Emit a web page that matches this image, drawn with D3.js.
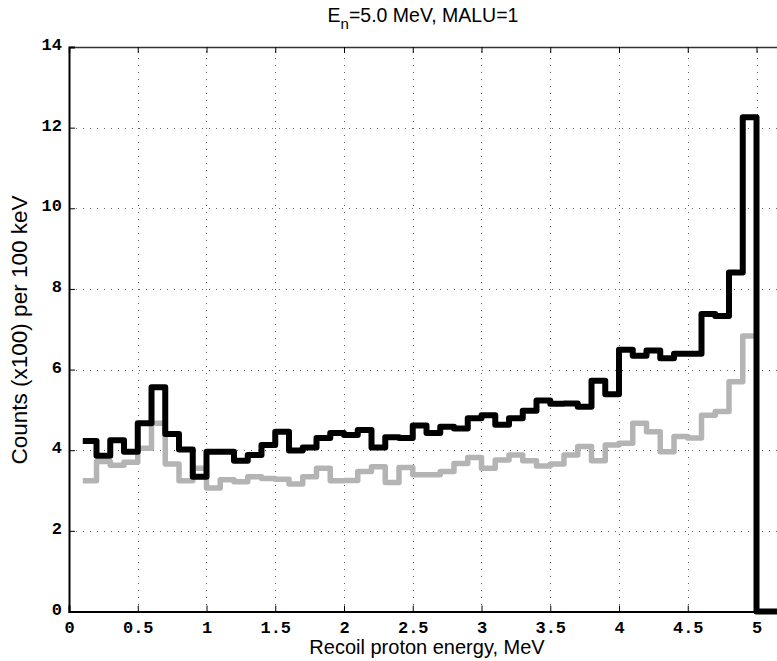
<!DOCTYPE html>
<html>
<head>
<meta charset="utf-8">
<script src="https://cdn.jsdelivr.net/npm/d3@7"></script>
<style>
  html, body { margin: 0; padding: 0; background: #fff; }
  svg { display: block; }
</style>
</head>
<body>
<div id="chart"></div>
<script>
// Bin lower edges (MeV), 100 keV bins
const binEdges = d3.range(1, 50).map(i => +(i * 0.1).toFixed(1)); // 0.1 .. 4.9
const binWidth = 0.1;

// Black series (counts x100 per 100 keV)
const blackValues = [
  4.23, 3.86, 4.25, 3.96, 4.67, 5.56, 4.40, 4.02, 3.34, 3.96,
  3.96, 3.74, 3.88, 4.13, 4.46, 3.99, 4.07, 4.30, 4.43, 4.38,
  4.50, 4.07, 4.32, 4.30, 4.61, 4.43, 4.58, 4.54, 4.79, 4.87,
  4.63, 4.79, 4.98, 5.23, 5.15, 5.16, 5.08, 5.72, 5.39, 6.49,
  6.34, 6.47, 6.28, 6.39, 6.39, 7.38, 7.33, 8.41, 12.26
];
// trailing empty bins above 5.0 MeV
const blackTail = [0, 0, 0];

// Grey series
const greyValues = [
  3.24, 3.72, 3.63, 3.70, 4.05, 4.67, 3.66, 3.24, 3.55, 3.06,
  3.27, 3.22, 3.34, 3.30, 3.28, 3.16, 3.34, 3.55, 3.24, 3.25,
  3.47, 3.59, 3.20, 3.57, 3.39, 3.39, 3.47, 3.67, 3.82, 3.55,
  3.76, 3.88, 3.74, 3.61, 3.66, 3.88, 4.09, 3.74, 4.13, 4.17,
  4.67, 4.46, 3.96, 4.34, 4.30, 4.87, 4.96, 5.70, 6.83
];

const xTicks = [0, 0.5, 1, 1.5, 2, 2.5, 3, 3.5, 4, 4.5, 5];
const yTicks = [0, 2, 4, 6, 8, 10, 12, 14];

const W = 777, H = 661;
const x = d3.scaleLinear().domain([0, 5.2]).range([69, 69 + 5.2 * 137.5]);
const y = d3.scaleLinear().domain([0, 14]).range([611.5, 47]);
const x0 = x.range()[0], x1 = x.range()[1];
const y0 = y.range()[0], y1 = y.range()[1];

const svg = d3.select("#chart").append("svg")
  .attr("width", W).attr("height", H);

// grid
const grid = svg.append("g").attr("stroke", "#666").attr("stroke-width", 1)
  .attr("stroke-dasharray", "1,6").attr("shape-rendering", "crispEdges");
xTicks.filter(t => t > 0).forEach(t => {
  grid.append("line").attr("x1", Math.round(x(t)) + 0.5).attr("x2", Math.round(x(t)) + 0.5)
    .attr("y1", y0).attr("y2", y1);
});
yTicks.filter(t => t > 0 && t < 14).forEach(t => {
  grid.append("line").attr("y1", Math.round(y(t)) + 0.5).attr("y2", Math.round(y(t)) + 0.5)
    .attr("x1", x0).attr("x2", x1);
});

// step data
function stepPoints(vals, tail) {
  const pts = vals.map((v, i) => [binEdges[i], v]);
  const all = vals.concat(tail || []);
  const lastEdge = binEdges[0] + all.length * binWidth;
  (tail || []).forEach((v, j) => pts.push([+(binEdges[0] + (vals.length + j) * binWidth).toFixed(2), v]));
  pts.push([lastEdge, all[all.length - 1]]);
  return pts;
}
const line = d3.line().x(d => x(d[0])).y(d => y(d[1])).curve(d3.curveStepAfter);

svg.append("path").datum(stepPoints(greyValues))
  .attr("d", line).attr("fill", "none").attr("stroke", "#b4b4b4")
  .attr("stroke-width", 5.5).attr("stroke-linejoin", "round");

svg.append("path").datum(stepPoints(blackValues, blackTail))
  .attr("d", line).attr("fill", "none").attr("stroke", "#000")
  .attr("stroke-width", 6).attr("stroke-linejoin", "round");

// axes
const xAxisB = d3.axisBottom(x).tickValues(xTicks).tickSize(-6).tickPadding(9)
  .tickFormat(d => d3.format("")(d));
const xAxisT = d3.axisTop(x).tickValues(xTicks).tickSize(-6).tickFormat("");
const yAxisL = d3.axisLeft(y).tickValues(yTicks).tickSize(-6).tickPadding(7);

function styleAxis(g) {
  g.select(".domain").attr("stroke", "#000").attr("stroke-width", 1.5);
  g.selectAll(".tick line").attr("stroke", "#000").attr("stroke-width", 1);
  g.selectAll("text").attr("font-family", "'Liberation Mono', 'DejaVu Sans Mono', monospace")
    .attr("font-weight", "bold").attr("font-size", 17).attr("fill", "#000");
}

svg.append("g").attr("transform", `translate(0,${y0})`).call(xAxisB).call(styleAxis)
  .call(g => g.select(".domain").attr("stroke-width", 2));
svg.append("g").attr("transform", `translate(0,${y1})`).call(xAxisT).call(styleAxis)
  .call(g => g.select(".domain").attr("stroke", "#333"));
svg.append("g").attr("transform", `translate(${x0},0)`).call(yAxisL).call(styleAxis)
  .call(g => g.select(".domain").attr("stroke-width", 2))
  .call(g => g.selectAll(".tick text").attr("dy", "0.15em"));

// title
const title = svg.append("text").attr("x", 423).attr("y", 22)
  .attr("text-anchor", "middle")
  .attr("font-family", "'Liberation Sans', Arial, sans-serif").attr("font-size", 19.5).attr("fill", "#000");
title.append("tspan").text("E");
title.append("tspan").attr("dy", 7).attr("font-size", 15).text("n");
title.append("tspan").attr("dy", -7).text("=5.0 MeV, MALU=1");

// axis labels
svg.append("text").attr("x", 427).attr("y", 654).attr("text-anchor", "middle")
  .attr("font-family", "'Liberation Sans', Arial, sans-serif").attr("font-size", 20)
  .attr("fill", "#000").text("Recoil proton energy, MeV");
svg.append("text").attr("transform", "translate(27,330) rotate(-90)").attr("text-anchor", "middle")
  .attr("font-family", "'Liberation Sans', Arial, sans-serif").attr("font-size", 22.5)
  .attr("fill", "#000").text("Counts (x100) per 100 keV");
</script>
</body>
</html>
